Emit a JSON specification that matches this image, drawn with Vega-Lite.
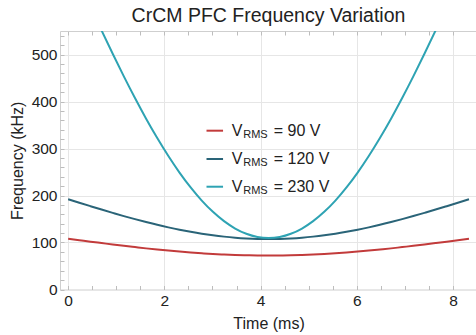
{
  "$schema": "https://vega.github.io/schema/vega-lite/v6.json",
  "width": 417,
  "height": 258.5,
  "autosize": {"type": "none"},
  "padding": {"left": 60, "top": 31, "right": 0, "bottom": 45.5},
  "background": "white",
  "title": {"text": "CrCM PFC Frequency Variation", "fontSize": 19.5, "fontWeight": "normal", "font": "Liberation Sans", "color": "#222222", "anchor": "middle", "offset": 8, "baseline": "alphabetic", "dy": 21},
  "config": {"view": {"stroke": "#cfcfcf", "strokeWidth": 1}, "font": "Liberation Sans"},
  "datasets": {
    "curves": [
      {"t": 0, "f": 108, "V": "90 V"}, {"t": 0.2315, "f": 104.9, "V": "90 V"}, {"t": 0.463, "f": 101.8, "V": "90 V"}, {"t": 0.6944, "f": 98.8, "V": "90 V"}, {"t": 0.9259, "f": 95.8, "V": "90 V"}, {"t": 1.1574, "f": 92.9, "V": "90 V"}, {"t": 1.3889, "f": 90.2, "V": "90 V"}, {"t": 1.6204, "f": 87.5, "V": "90 V"}, {"t": 1.8519, "f": 85.1, "V": "90 V"}, {"t": 2.0833, "f": 82.8, "V": "90 V"}, {"t": 2.3148, "f": 80.7, "V": "90 V"}, {"t": 2.5463, "f": 78.8, "V": "90 V"}, {"t": 2.7778, "f": 77.1, "V": "90 V"}, {"t": 3.0093, "f": 75.6, "V": "90 V"}, {"t": 3.2407, "f": 74.5, "V": "90 V"}, {"t": 3.4722, "f": 73.5, "V": "90 V"}, {"t": 3.7037, "f": 72.8, "V": "90 V"}, {"t": 3.9352, "f": 72.4, "V": "90 V"}, {"t": 4.1667, "f": 72.3, "V": "90 V"}, {"t": 4.3981, "f": 72.4, "V": "90 V"}, {"t": 4.6296, "f": 72.8, "V": "90 V"}, {"t": 4.8611, "f": 73.5, "V": "90 V"}, {"t": 5.0926, "f": 74.5, "V": "90 V"}, {"t": 5.3241, "f": 75.6, "V": "90 V"}, {"t": 5.5556, "f": 77.1, "V": "90 V"}, {"t": 5.787, "f": 78.8, "V": "90 V"}, {"t": 6.0185, "f": 80.7, "V": "90 V"}, {"t": 6.25, "f": 82.8, "V": "90 V"}, {"t": 6.4815, "f": 85.1, "V": "90 V"}, {"t": 6.713, "f": 87.5, "V": "90 V"}, {"t": 6.9444, "f": 90.2, "V": "90 V"}, {"t": 7.1759, "f": 92.9, "V": "90 V"}, {"t": 7.4074, "f": 95.8, "V": "90 V"}, {"t": 7.6389, "f": 98.8, "V": "90 V"}, {"t": 7.8704, "f": 101.8, "V": "90 V"}, {"t": 8.1019, "f": 104.9, "V": "90 V"}, {"t": 8.3333, "f": 108, "V": "90 V"},
      {"t": 0, "f": 192, "V": "120 V"}, {"t": 0.2315, "f": 184.6, "V": "120 V"}, {"t": 0.463, "f": 177.3, "V": "120 V"}, {"t": 0.6944, "f": 170.1, "V": "120 V"}, {"t": 0.9259, "f": 163.1, "V": "120 V"}, {"t": 1.1574, "f": 156.2, "V": "120 V"}, {"t": 1.3889, "f": 149.7, "V": "120 V"}, {"t": 1.6204, "f": 143.5, "V": "120 V"}, {"t": 1.8519, "f": 137.6, "V": "120 V"}, {"t": 2.0833, "f": 132.2, "V": "120 V"}, {"t": 2.3148, "f": 127.2, "V": "120 V"}, {"t": 2.5463, "f": 122.7, "V": "120 V"}, {"t": 2.7778, "f": 118.7, "V": "120 V"}, {"t": 3.0093, "f": 115.3, "V": "120 V"}, {"t": 3.2407, "f": 112.5, "V": "120 V"}, {"t": 3.4722, "f": 110.3, "V": "120 V"}, {"t": 3.7037, "f": 108.7, "V": "120 V"}, {"t": 3.9352, "f": 107.7, "V": "120 V"}, {"t": 4.1667, "f": 107.4, "V": "120 V"}, {"t": 4.3981, "f": 107.7, "V": "120 V"}, {"t": 4.6296, "f": 108.7, "V": "120 V"}, {"t": 4.8611, "f": 110.3, "V": "120 V"}, {"t": 5.0926, "f": 112.5, "V": "120 V"}, {"t": 5.3241, "f": 115.3, "V": "120 V"}, {"t": 5.5556, "f": 118.7, "V": "120 V"}, {"t": 5.787, "f": 122.7, "V": "120 V"}, {"t": 6.0185, "f": 127.2, "V": "120 V"}, {"t": 6.25, "f": 132.2, "V": "120 V"}, {"t": 6.4815, "f": 137.6, "V": "120 V"}, {"t": 6.713, "f": 143.5, "V": "120 V"}, {"t": 6.9444, "f": 149.7, "V": "120 V"}, {"t": 7.1759, "f": 156.2, "V": "120 V"}, {"t": 7.4074, "f": 163.1, "V": "120 V"}, {"t": 7.6389, "f": 170.1, "V": "120 V"}, {"t": 7.8704, "f": 177.3, "V": "120 V"}, {"t": 8.1019, "f": 184.6, "V": "120 V"}, {"t": 8.3333, "f": 192, "V": "120 V"},
      {"t": 0, "f": 705.3, "V": "230 V"}, {"t": 0.2315, "f": 653.4, "V": "230 V"}, {"t": 0.463, "f": 601.8, "V": "230 V"}, {"t": 0.6944, "f": 551.1, "V": "230 V"}, {"t": 0.9259, "f": 501.5, "V": "230 V"}, {"t": 1.1574, "f": 453.5, "V": "230 V"}, {"t": 1.3889, "f": 407.4, "V": "230 V"}, {"t": 1.6204, "f": 363.5, "V": "230 V"}, {"t": 1.8519, "f": 322.3, "V": "230 V"}, {"t": 2.0833, "f": 284.0, "V": "230 V"}, {"t": 2.3148, "f": 248.8, "V": "230 V"}, {"t": 2.5463, "f": 217.2, "V": "230 V"}, {"t": 2.7778, "f": 189.2, "V": "230 V"}, {"t": 3.0093, "f": 165.2, "V": "230 V"}, {"t": 3.2407, "f": 145.4, "V": "230 V"}, {"t": 3.4722, "f": 129.7, "V": "230 V"}, {"t": 3.7037, "f": 118.5, "V": "230 V"}, {"t": 3.9352, "f": 111.7, "V": "230 V"}, {"t": 4.1667, "f": 109.4, "V": "230 V"}, {"t": 4.3981, "f": 111.7, "V": "230 V"}, {"t": 4.6296, "f": 118.5, "V": "230 V"}, {"t": 4.8611, "f": 129.7, "V": "230 V"}, {"t": 5.0926, "f": 145.4, "V": "230 V"}, {"t": 5.3241, "f": 165.2, "V": "230 V"}, {"t": 5.5556, "f": 189.2, "V": "230 V"}, {"t": 5.787, "f": 217.2, "V": "230 V"}, {"t": 6.0185, "f": 248.8, "V": "230 V"}, {"t": 6.25, "f": 284.0, "V": "230 V"}, {"t": 6.4815, "f": 322.3, "V": "230 V"}, {"t": 6.713, "f": 363.5, "V": "230 V"}, {"t": 6.9444, "f": 407.4, "V": "230 V"}, {"t": 7.1759, "f": 453.5, "V": "230 V"}, {"t": 7.4074, "f": 501.5, "V": "230 V"}, {"t": 7.6389, "f": 551.1, "V": "230 V"}, {"t": 7.8704, "f": 601.8, "V": "230 V"}, {"t": 8.1019, "f": 653.4, "V": "230 V"}, {"t": 8.3333, "f": 705.3, "V": "230 V"}
    ]
  },
  "layer": [
    {
      "data": {"name": "curves"},
      "mark": {"type": "line", "strokeWidth": 2, "clip": true, "interpolate": "monotone"},
      "encoding": {
        "x": {"field": "t", "type": "quantitative", "scale": {"domain": [-0.17, 8.5], "nice": false, "zero": false},
          "axis": {"orient": "bottom", "values": [0, 0.5, 1, 1.5, 2, 2.5, 3, 3.5, 4, 4.5, 5, 5.5, 6, 6.5, 7, 7.5, 8],
            "labelExpr": "datum.value % 2 === 0 ? format(datum.value, 'd') : ''",
            "grid": true, "gridColor": "#e6e6e6", "gridOpacity": {"condition": {"test": "datum.value % 2 === 0", "value": 1}, "value": 0},
            "domain": false, "tickSize": -4, "tickColor": "#bdbdbd", "labelPadding": 8, "labelFontSize": 15.5, "labelColor": "#222222", "labelFont": "Liberation Sans",
            "labelFlush": false, "labelOverlap": false, "labelBound": false,
            "title": "Time (ms)", "titleFontSize": 16, "titleFontWeight": "normal", "titleColor": "#222222", "titleFont": "Liberation Sans", "titlePadding": 6}},
        "y": {"field": "f", "type": "quantitative", "scale": {"domain": [0, 550], "nice": false},
          "axis": {"orient": "left", "values": [0, 20, 40, 60, 80, 100, 120, 140, 160, 180, 200, 220, 240, 260, 280, 300, 320, 340, 360, 380, 400, 420, 440, 460, 480, 500, 520, 540],
            "labelExpr": "datum.value % 100 === 0 ? format(datum.value, 'd') : ''",
            "grid": true, "gridColor": "#e6e6e6", "gridOpacity": {"condition": {"test": "datum.value % 100 === 0", "value": 1}, "value": 0},
            "domain": false, "tickSize": -4, "tickColor": "#bdbdbd", "labelPadding": 7, "labelFontSize": 15.5, "labelColor": "#222222", "labelFont": "Liberation Sans",
            "labelFlush": false, "labelOverlap": false, "labelBound": false,
            "title": "Frequency (kHz)", "titleFontSize": 16, "titleFontWeight": "normal", "titleColor": "#222222", "titleFont": "Liberation Sans", "titlePadding": 6}},
        "color": {"field": "V", "type": "nominal", "scale": {"domain": ["90 V", "120 V", "230 V"], "range": ["#c23b3b", "#2a6478", "#2ea3b3"]}, "legend": null}
      }
    },
    {
      "data": {"name": "curves"},
      "mark": {"type": "rule", "opacity": 0},
      "encoding": {
        "x": {"field": "t", "type": "quantitative", "scale": {"domain": [-0.17, 8.5], "nice": false, "zero": false},
          "axis": {"orient": "top", "values": [0, 0.5, 1, 1.5, 2, 2.5, 3, 3.5, 4, 4.5, 5, 5.5, 6, 6.5, 7, 7.5, 8], "labels": false, "grid": false, "domain": false, "tickSize": -4, "tickColor": "#bdbdbd", "title": null, "minExtent": 0, "maxExtent": 0}}
      }
    },
    {"data": {"values": [{}]}, "mark": {"type": "rule", "color": "#c23b3b", "strokeWidth": 2}, "encoding": {"x": {"datum": 2.876, "type": "quantitative", "axis": null}, "x2": {"datum": 3.22}, "y": {"datum": 337.9, "type": "quantitative", "axis": null}}},
    {"data": {"values": [{}]}, "mark": {"type": "rule", "color": "#2a6478", "strokeWidth": 2}, "encoding": {"x": {"datum": 2.876, "type": "quantitative", "axis": null}, "x2": {"datum": 3.22}, "y": {"datum": 277.7, "type": "quantitative", "axis": null}}},
    {"data": {"values": [{}]}, "mark": {"type": "rule", "color": "#2ea3b3", "strokeWidth": 2}, "encoding": {"x": {"datum": 2.876, "type": "quantitative", "axis": null}, "x2": {"datum": 3.22}, "y": {"datum": 218.7, "type": "quantitative", "axis": null}}},
    {"data": {"values": [{}]}, "mark": {"type": "text", "text": "V", "align": "left", "baseline": "middle", "fontSize": 16, "font": "Liberation Sans", "color": "#222222"},
      "encoding": {"x": {"datum": 3.401, "type": "quantitative", "axis": null}, "y": {"datum": 337.9, "type": "quantitative", "axis": null}}},
    {"data": {"values": [{}]}, "mark": {"type": "text", "text": "V", "align": "left", "baseline": "middle", "fontSize": 16, "font": "Liberation Sans", "color": "#222222"},
      "encoding": {"x": {"datum": 3.401, "type": "quantitative", "axis": null}, "y": {"datum": 277.7, "type": "quantitative", "axis": null}}},
    {"data": {"values": [{}]}, "mark": {"type": "text", "text": "V", "align": "left", "baseline": "middle", "fontSize": 16, "font": "Liberation Sans", "color": "#222222"},
      "encoding": {"x": {"datum": 3.401, "type": "quantitative", "axis": null}, "y": {"datum": 218.7, "type": "quantitative", "axis": null}}},
    {"data": {"values": [{}]}, "mark": {"type": "text", "text": "RMS", "align": "left", "baseline": "middle", "fontSize": 11, "dy": 4.5, "font": "Liberation Sans", "color": "#222222"},
      "encoding": {"x": {"datum": 3.64, "type": "quantitative", "axis": null}, "y": {"datum": 337.9, "type": "quantitative", "axis": null}}},
    {"data": {"values": [{}]}, "mark": {"type": "text", "text": "RMS", "align": "left", "baseline": "middle", "fontSize": 11, "dy": 4.5, "font": "Liberation Sans", "color": "#222222"},
      "encoding": {"x": {"datum": 3.64, "type": "quantitative", "axis": null}, "y": {"datum": 277.7, "type": "quantitative", "axis": null}}},
    {"data": {"values": [{}]}, "mark": {"type": "text", "text": "RMS", "align": "left", "baseline": "middle", "fontSize": 11, "dy": 4.5, "font": "Liberation Sans", "color": "#222222"},
      "encoding": {"x": {"datum": 3.64, "type": "quantitative", "axis": null}, "y": {"datum": 218.7, "type": "quantitative", "axis": null}}},
    {"data": {"values": [{}]}, "mark": {"type": "text", "text": "= 90 V", "align": "left", "baseline": "middle", "fontSize": 16, "font": "Liberation Sans", "color": "#222222"},
      "encoding": {"x": {"datum": 4.274, "type": "quantitative", "axis": null}, "y": {"datum": 337.9, "type": "quantitative", "axis": null}}},
    {"data": {"values": [{}]}, "mark": {"type": "text", "text": "= 120 V", "align": "left", "baseline": "middle", "fontSize": 16, "font": "Liberation Sans", "color": "#222222"},
      "encoding": {"x": {"datum": 4.274, "type": "quantitative", "axis": null}, "y": {"datum": 277.7, "type": "quantitative", "axis": null}}},
    {"data": {"values": [{}]}, "mark": {"type": "text", "text": "= 230 V", "align": "left", "baseline": "middle", "fontSize": 16, "font": "Liberation Sans", "color": "#222222"},
      "encoding": {"x": {"datum": 4.274, "type": "quantitative", "axis": null}, "y": {"datum": 218.7, "type": "quantitative", "axis": null}}}
  ],
  "resolve": {"axis": {"x": "independent", "y": "independent"}}
}
